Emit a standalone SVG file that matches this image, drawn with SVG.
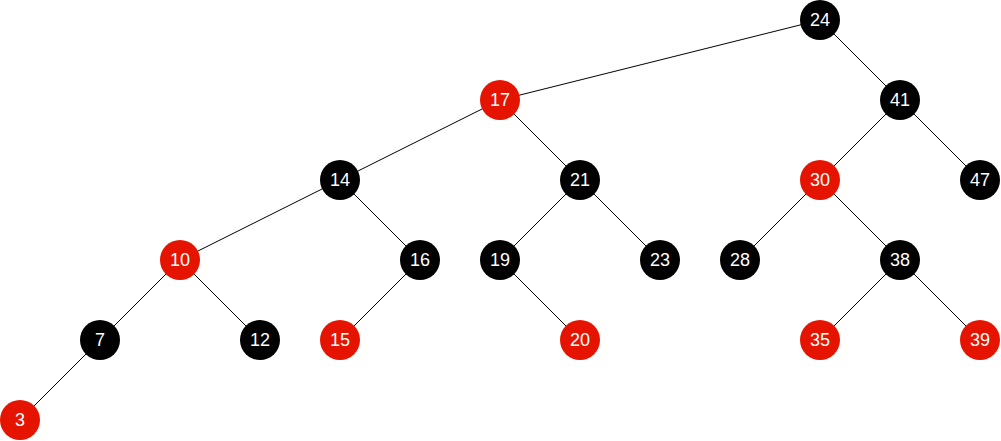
<svg xmlns="http://www.w3.org/2000/svg" width="1001" height="441" viewBox="0 0 1001 441">
<style>
.e{stroke:#000;stroke-width:1;fill:none}
.b{fill:#000}
.r{fill:#e51400}
text{font-family:"Liberation Sans",Arial,sans-serif;font-size:18px;fill:#fff;text-anchor:middle;dominant-baseline:central}
</style>
<rect width="1001" height="441" fill="#fff"/>
<g id="edges" class="e">
<line x1="820" y1="20" x2="500" y2="100"/>
<line x1="820" y1="20" x2="900" y2="100"/>
<line x1="500" y1="100" x2="340" y2="180"/>
<line x1="500" y1="100" x2="580" y2="180"/>
<line x1="900" y1="100" x2="820" y2="180"/>
<line x1="900" y1="100" x2="980" y2="180"/>
<line x1="340" y1="180" x2="180" y2="260"/>
<line x1="340" y1="180" x2="420" y2="260"/>
<line x1="580" y1="180" x2="500" y2="260"/>
<line x1="580" y1="180" x2="660" y2="260"/>
<line x1="820" y1="180" x2="740" y2="260"/>
<line x1="820" y1="180" x2="900" y2="260"/>
<line x1="180" y1="260" x2="100" y2="340"/>
<line x1="180" y1="260" x2="260" y2="340"/>
<line x1="420" y1="260" x2="340" y2="340"/>
<line x1="500" y1="260" x2="580" y2="340"/>
<line x1="900" y1="260" x2="820" y2="340"/>
<line x1="900" y1="260" x2="980" y2="340"/>
<line x1="100" y1="340" x2="20" y2="420"/>
</g>
<g id="n24"><circle class="b" cx="820" cy="20" r="20"/><text x="820" y="20">24</text></g>
<g id="n17"><circle class="r" cx="500" cy="100" r="20"/><text x="500" y="100">17</text></g>
<g id="n41"><circle class="b" cx="900" cy="100" r="20"/><text x="900" y="100">41</text></g>
<g id="n14"><circle class="b" cx="340" cy="180" r="20"/><text x="340" y="180">14</text></g>
<g id="n21"><circle class="b" cx="580" cy="180" r="20"/><text x="580" y="180">21</text></g>
<g id="n30"><circle class="r" cx="820" cy="180" r="20"/><text x="820" y="180">30</text></g>
<g id="n47"><circle class="b" cx="980" cy="180" r="20"/><text x="980" y="180">47</text></g>
<g id="n10"><circle class="r" cx="180" cy="260" r="20"/><text x="180" y="260">10</text></g>
<g id="n16"><circle class="b" cx="420" cy="260" r="20"/><text x="420" y="260">16</text></g>
<g id="n19"><circle class="b" cx="500" cy="260" r="20"/><text x="500" y="260">19</text></g>
<g id="n23"><circle class="b" cx="660" cy="260" r="20"/><text x="660" y="260">23</text></g>
<g id="n28"><circle class="b" cx="740" cy="260" r="20"/><text x="740" y="260">28</text></g>
<g id="n38"><circle class="b" cx="900" cy="260" r="20"/><text x="900" y="260">38</text></g>
<g id="n7"><circle class="b" cx="100" cy="340" r="20"/><text x="100" y="340">7</text></g>
<g id="n12"><circle class="b" cx="260" cy="340" r="20"/><text x="260" y="340">12</text></g>
<g id="n15"><circle class="r" cx="340" cy="340" r="20"/><text x="340" y="340">15</text></g>
<g id="n20"><circle class="r" cx="580" cy="340" r="20"/><text x="580" y="340">20</text></g>
<g id="n35"><circle class="r" cx="820" cy="340" r="20"/><text x="820" y="340">35</text></g>
<g id="n39"><circle class="r" cx="980" cy="340" r="20"/><text x="980" y="340">39</text></g>
<g id="n3"><circle class="r" cx="20" cy="420" r="20"/><text x="20" y="420">3</text></g>
</svg>
